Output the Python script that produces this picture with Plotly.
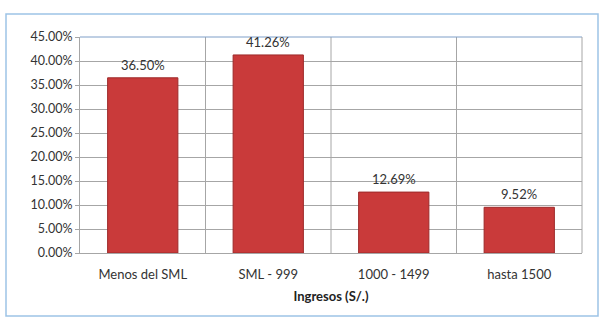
import plotly.graph_objects as go

categories = ["Menos del SML", "SML - 999", "1000 - 1499", "hasta 1500"]
values = [0.3650, 0.4126, 0.1269, 0.0952]
x_title = "Ingresos (S/.)"

L, R, T, B = 80, 582, 37, 253
W, H = 605, 324
pw, ph = R - L, B - T
FONT = "Lato, Open Sans, sans-serif"

fig = go.Figure()
fig.add_trace(go.Bar(
    x=list(range(len(categories))), y=values,
    width=0.56,
    marker=dict(color="#c93a3a", line=dict(color="#9e2a2a", width=1)),
    cliponaxis=False,
))

annotations = []
for i, v in enumerate(values):
    annotations.append(dict(x=i, y=v, xref="x", yref="y", text=f"{v:.2%}",
                            showarrow=False, yanchor="bottom", yshift=3,
                            font=dict(family=FONT, size=13, color="#333333")))

shapes = []
for i in range(len(categories) - 1):
    shapes.append(dict(type="line", xref="x", yref="paper", x0=i + 0.5, x1=i + 0.5,
                       y0=0, y1=1, line=dict(color="#a6a6a6", width=1), layer="below"))
shapes.append(dict(type="line", xref="paper", yref="paper", x0=0, x1=1, y0=1, y1=1,
                   line=dict(color="#7f9fc8", width=1)))
shapes.append(dict(type="line", xref="paper", yref="paper", x0=1, x1=1, y0=0, y1=1,
                   line=dict(color="#a6a6a6", width=1)))
shapes.append(dict(type="rect", xref="paper", yref="paper",
                   x0=(6 - L) / pw, x1=(598 - L) / pw,
                   y0=(B - 316) / ph, y1=(B - 14) / ph,
                   line=dict(color="#9dc3e6", width=1.5)))

fig.update_layout(
    width=W, height=H,
    margin=dict(l=L, r=W - R, t=T, b=H - B),
    paper_bgcolor="white", plot_bgcolor="white",
    showlegend=False,
    shapes=shapes,
    annotations=annotations,
    font=dict(family=FONT, size=12, color="#333333"),
    xaxis=dict(
        tickmode="array", tickvals=list(range(len(categories))), ticktext=categories,
        range=[-0.5, len(categories) - 0.5],
        showgrid=False, zeroline=False, showline=True, linecolor="#a6a6a6",
        ticks="", ticklabelstandoff=9, tickfont=dict(size=13),
        title=dict(text="<b>" + x_title + "</b>", standoff=11,
                   font=dict(size=13, family=FONT, color="#222222")),
    ),
    yaxis=dict(
        range=[0, 0.45], dtick=0.05, tickformat=".2%",
        showgrid=True, gridcolor="#a6a6a6", gridwidth=1,
        zeroline=False, showline=True, linecolor="#a6a6a6",
        ticks="outside", ticklen=4, tickcolor="#a6a6a6",
        tickfont=dict(size=12.5),
    ),
)

fig.write_html("out.html")
